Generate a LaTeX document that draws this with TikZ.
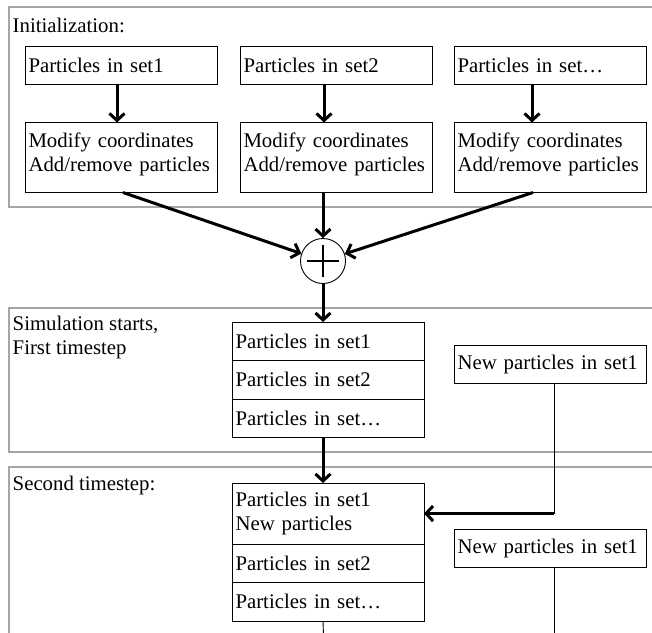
\documentclass[tikz,border=0pt]{standalone}
\usepackage{fontspec}
\setmainfont{Liberation Serif}
\usetikzlibrary{arrows.meta,positioning,calc}
\definecolor{framegray}{HTML}{A6A6A6}

\begin{document}
\begin{tikzpicture}[x=1pt, y=1pt,
  box/.style={draw, line width=0.9pt, outer sep=0pt, inner xsep=3.5pt, inner ysep=0pt, text width=185pt, minimum height=38.5pt, align=left, font=\fontsize{20.8pt}{24.5pt}\selectfont},
  arr/.style={-{Straight Barb[length=7pt,width=15pt]}, line width=3pt},
  link/.style={line width=0.9pt},
  frame/.style={draw=framegray, line width=1.2pt},
  lbl/.style={inner sep=0pt, align=left, font=\fontsize{20.8pt}{24pt}\selectfont},
  sumnode/.style={draw, circle, line width=0.9pt, minimum size=45pt, inner sep=0pt}
]
\useasboundingbox (0,0) rectangle (652,-632);
\clip (0,0) rectangle (652,-632);

% stage frames
\draw[frame] (9,-7) rectangle (680,-207);
\draw[frame] (9,-308) rectangle (680,-452);
\draw[frame] (9,-467) rectangle (680,-680);

% initialization
\node[lbl, anchor=base west] (tinit) at (12.5,-32) {Initialization:};
\node[box, anchor=north west] (p1) at (25,-46) {Particles in set1};
\node[box, right=23pt of p1] (p2) {Particles in set2};
\node[box, right=22pt of p2] (p3) {Particles in set…};
\node[box, below=38pt of p1, minimum height=70pt, text depth=35pt] (m1) {Modify coordinates\\Add/remove particles};
\node[box, below=38pt of p2, minimum height=70pt, text depth=35pt] (m2) {Modify coordinates\\Add/remove particles};
\node[box, below=38pt of p3, minimum height=70pt, text depth=35pt] (m3) {Modify coordinates\\Add/remove particles};
\draw[arr] ([xshift=-4pt]p1.south) -- ([xshift=-4pt]m1.north);
\draw[arr] ([xshift=-12pt]p2.south) -- ([xshift=-12pt]m2.north);
\draw[arr] ([xshift=-18pt]p3.south) -- ([xshift=-18pt]m3.north);

% merge
\node[sumnode] (sum) at (323,-261) {};
\draw[line width=1.3pt] ([xshift=-16pt]sum.center) -- ([xshift=16pt]sum.center);
\draw[line width=1.3pt] ([yshift=-16pt]sum.center) -- ([yshift=16pt]sum.center);
\draw[arr] ([xshift=2pt]m1.south) -- (sum);
\draw[arr] (m2.south -| sum) -- (sum);
\draw[arr] ([xshift=-17pt]m3.south) -- (sum);

% first timestep
\node[lbl, anchor=north west] (tsim) at (12.5,-315.5) {Simulation starts,\\First timestep};
\node[box, anchor=north west] (a1) at (232,-322) {Particles in set1};
\node[box, below=0pt of a1] (a2) {Particles in set2};
\node[box, below=0pt of a2] (a3) {Particles in set…};
\node[box, anchor=north west] (n1) at (454,-345) {New particles in set1};
\draw[arr] (sum) -- (a1.north -| sum);

% second timestep
\node[lbl, anchor=base west] (tsec) at (12.5,-490) {Second timestep:};
\node[box, anchor=north west, minimum height=61pt] (c1) at (232,-483) {Particles in set1\\New particles};
\node[box, below=0pt of c1] (c2) {Particles in set2};
\node[box, below=0pt of c2] (c3) {Particles in set…};
\node[box, anchor=north west] (n2) at (454,-529) {New particles in set1};
\draw[arr] (a3.south -| sum) -- (c1.north -| sum);

\coordinate[xshift=4pt] (q1) at (n1.south);
\coordinate (turn) at (q1 |- c1.east);
\draw[link] (q1) -- (turn);
\draw[arr] (turn) -- (c1.east);

\coordinate (out1) at (324,-650);
\coordinate[xshift=4pt] (q2) at (n2.south);
\draw[link] (c3.south -| sum) -- (out1);
\draw[link] (q2) -- (q2 |- out1);
\end{tikzpicture}
\end{document}
